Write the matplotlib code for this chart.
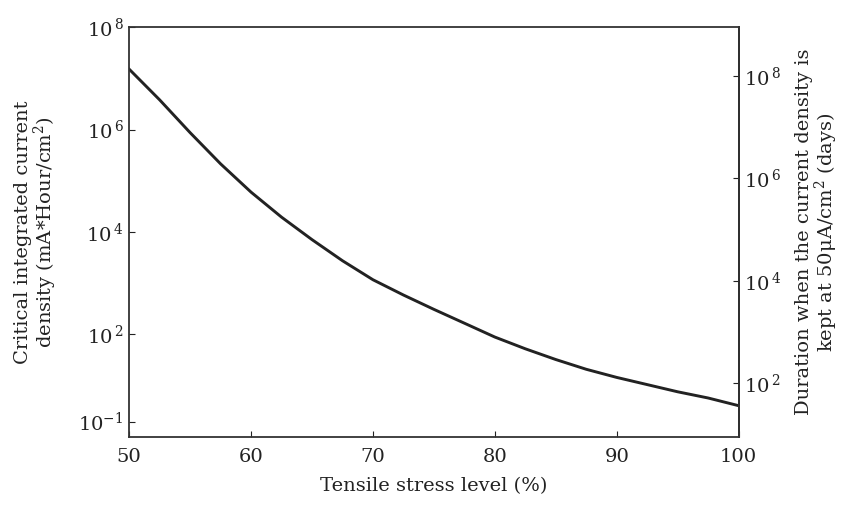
import matplotlib
matplotlib.use("Agg")
import matplotlib.pyplot as plt
import numpy as np

plt.rcParams['font.family'] = 'DejaVu Serif'
plt.rcParams['mathtext.fontset'] = 'dejavuserif'

# tensile stress level (%) and critical integrated current density (mA*Hour/cm^2)
stress = [50, 52.5, 55, 57.5, 60, 62.5, 65, 67.5, 70, 72.5, 75,
          77.5, 80, 82.5, 85, 87.5, 90, 92.5, 95, 97.5, 100]
current_density = [1.51e7, 3.8e6, 8.7e5, 2.14e5, 6.0e4, 1.95e4, 7.1e3, 2.75e3, 1.17e3, 589, 309,
                   166, 89, 52.5, 32.4, 20.9, 14.5, 10.5, 7.6, 5.75, 4.07]

x_ticks = [50, 60, 70, 80, 90, 100]
left_ticks = [10**0.3, 1e2, 1e4, 1e6, 1e8]
left_labels = [r'$10^{-1}$', r'$10^{\,2}$', r'$10^{\,4}$', r'$10^{\,6}$', r'$10^{\,8}$']
right_ticks = [1e2, 1e4, 1e6, 1e8]
right_labels = [r'$10^{\,2}$', r'$10^{\,4}$', r'$10^{\,6}$', r'$10^{\,8}$']
days_factor = 9.0

fig = plt.figure(figsize=(8.5, 5.22), dpi=100)
ax = fig.add_axes([0.152, 0.163, 0.717, 0.785])

ax.plot(stress, current_density, color='#222222', lw=2.1, solid_joinstyle='round')
ax.set_yscale('log')
ax.set_xlim(50, 100)
ax.set_ylim(1, 1e8)

ax.set_xticks(x_ticks)
ax.set_yticks(left_ticks)
ax.set_yticklabels(left_labels)
ax.minorticks_off()
ax.tick_params(direction='in', length=4, width=0.8, labelsize=14, colors='#222222')
ax.tick_params(axis='x', pad=8)
ax.tick_params(axis='y', pad=4)
for sp in ax.spines.values():
    sp.set_linewidth(1.3)
    sp.set_color('#333333')

ax.set_xlabel('Tensile stress level (%)', fontsize=14, labelpad=8, color='#222222')
ax.set_ylabel('Critical integrated current\ndensity (mA*Hour/cm$^2$)', fontsize=14,
              labelpad=14, color='#222222', linespacing=1.0)

sec = ax.secondary_yaxis('right', functions=(lambda y: y * days_factor,
                                             lambda y: y / days_factor))
sec.set_yscale('log')
sec.set_yticks(right_ticks)
sec.set_yticklabels(right_labels)
sec.minorticks_off()
sec.tick_params(direction='in', length=4, width=0.8, labelsize=14, colors='#222222', pad=4)
sec.spines['right'].set_linewidth(1.3)
sec.set_ylabel('Duration when the current density is\nkept at 50\u03bcA/cm$^2$ (days)',
               fontsize=14, labelpad=10, color='#222222', linespacing=1.0)

fig.savefig('out.png', dpi=100)
